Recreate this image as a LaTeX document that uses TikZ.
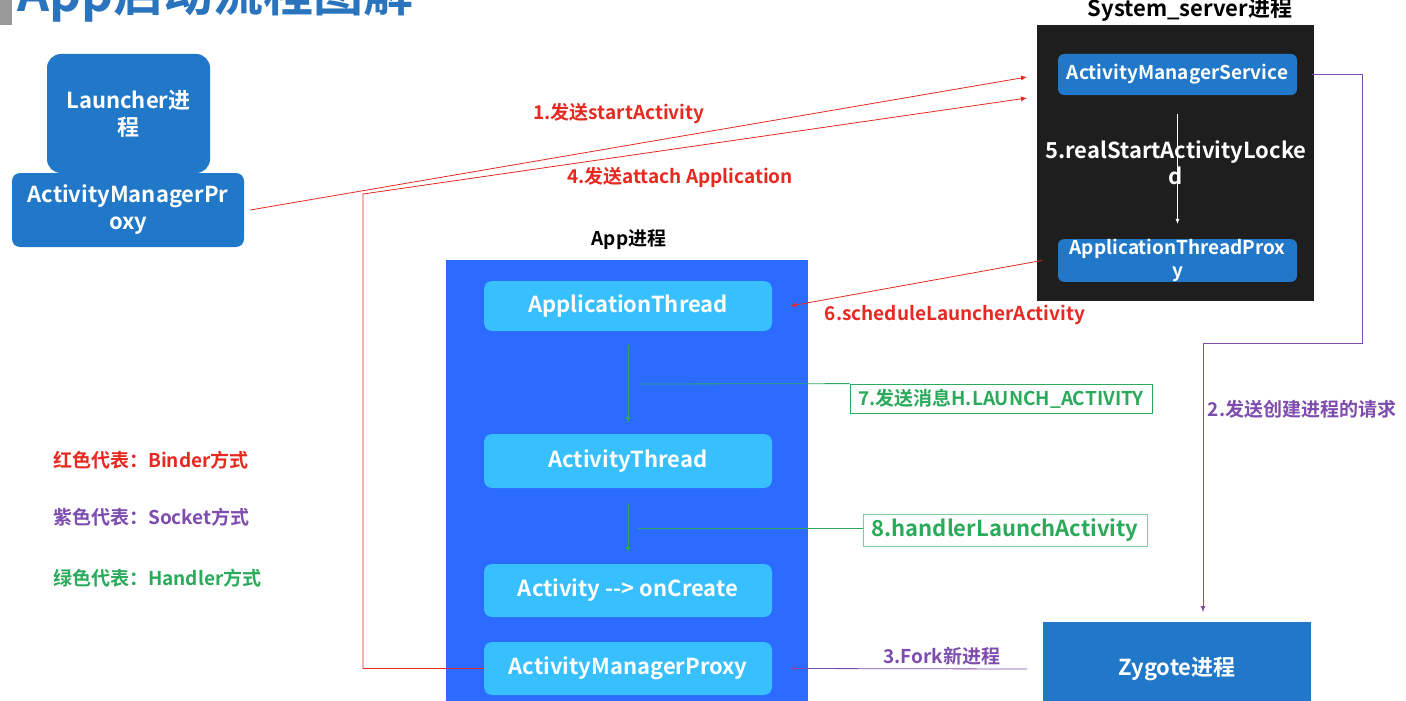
\documentclass[tikz,border=0pt]{standalone}
\usepackage{fontspec}
\setmainfont{Noto Sans CJK SC}[BoldFont={Noto Sans CJK SC Bold}]
\usepackage{xcolor}
\usetikzlibrary{arrows.meta,positioning}
\definecolor{midblue}{HTML}{2178C8}
\definecolor{appblue}{HTML}{2B6BFF}
\definecolor{lightblue}{HTML}{38BFFD}
\definecolor{darkbg}{HTML}{1E1E1E}
\definecolor{binder}{HTML}{E62A22}
\definecolor{socket}{HTML}{7D4CAE}
\definecolor{handler}{HTML}{2BAA5B}
\definecolor{titleblue}{HTML}{2A73BD}
\newcommand{\fs}[2]{\bfseries\fontsize{#1}{#2}\selectfont}

\begin{document}
\begin{tikzpicture}[
  x=1pt,y=-1pt,
  proc/.style={fill=midblue,text=white,inner sep=0pt,align=center},
  sysbox/.style={proc,rounded corners=6pt,minimum width=239pt,minimum height=41pt,font=\fs{19}{23}},
  inbox/.style={fill=lightblue,text=white,rounded corners=8pt,inner sep=0pt,minimum width=288pt,font=\fs{22}{26}},
  redarr/.style={draw=binder,line width=0.8pt,-{Latex[length=6pt,width=5pt]}},
  purarr/.style={draw=socket,line width=0.8pt,-{Latex[length=6pt,width=5pt]}},
  grnarr/.style={draw=handler,line width=0.8pt,-{Latex[length=6pt,width=5pt]}},
  lbl/.style={inner sep=1pt,align=center,font=\fs{19}{23}},
  tag/.style={draw=handler,line width=0.8pt,fill=white,text=handler,inner sep=0pt}
]
\clip (0,0) rectangle (1406,701);
\fill[white] (0,0) rectangle (1406,701);

% title, cut off at the top
\fill[gray!80] (0,0) rectangle (12,25);
\node[anchor=base west,inner sep=0pt,text=titleblue,font=\fs{50}{56}] (title) at (17,12) {App启动流程图解};

% Launcher
\node[proc,rounded corners=14pt,minimum width=163pt,minimum height=119pt,font=\fs{22}{27}] (launcher) at (128.5,113.5) {Launcher进\\程};
\node[proc,rounded corners=8pt,minimum width=232pt,minimum height=74pt,font=\fs{22}{27}] (amp) at (128,210) {ActivityManagerPr\\oxy};

% System_server
\node[fill=darkbg,minimum width=277pt,minimum height=276pt,inner sep=0pt] (sys) at (1175.5,163) {};
\node[font=\fs{22}{24},inner sep=0pt] (systitle) at (1190,10) {System\_server进程};
\node[sysbox] (ams) at (1177.5,74.5) {ActivityManagerService};
\node[sysbox] (atp) at (1177.5,260.5) {ApplicationThreadProx\\y};
\draw[white,line width=0.7pt,-{Latex[length=5pt,width=4pt]}] ([yshift=-19]ams.south) -- ([yshift=15]atp.north);
\node[lbl,text=white,font=\fs{22}{26}] (real) at (1176,163) {5.realStartActivityLocke\\d};

% App
\node[fill=appblue,minimum width=362pt,minimum height=460pt,inner sep=0pt] (app) at (627,490) {};
\node[font=\fs{19}{22},inner sep=0pt] (apptitle) at (629,240) {App进程};
\node[inbox,minimum height=50pt] (athread) at (628,306) {ApplicationThread};
\node[inbox,minimum height=54pt] (actthread) at (628,461) {ActivityThread};
\node[inbox,minimum height=53pt] (oncreate) at (628,590.5) {Activity -{}-> onCreate};
\node[inbox,minimum height=53pt] (aamp) at (628,668.5) {ActivityManagerProxy};

% Zygote
\node[proc,minimum width=268pt,minimum height=93pt,font=\fs{22}{26}] (zygote) at (1177,668.5) {Zygote进程};

% Binder
\coordinate (in1) at (1027,77);
\coordinate (in4) at (1027,98);
\coordinate (bend4) at (363,194);
\draw[redarr] ([xshift=6]amp.east) -- (in1);
\node[lbl,text=binder] (l1) at (619,113) {1.发送startActivity};
\draw[redarr] (aamp.west) -- (aamp.west -| bend4) -- (bend4) -- (in4);
\node[lbl,text=binder] (l4) at (680,177) {4.发送attach Application};
\draw[redarr] ([xshift=-16]atp.west) -- ([xshift=18]athread.east);
\node[lbl,text=binder] (l6) at (955,315) {6.scheduleLauncherActivity};

% Socket
\coordinate (c2a) at (1362,343);
\coordinate (c2b) at (1203,612);
\coordinate (in3) at (1027,669);
\draw[purarr] ([xshift=15]ams.east) -| (c2a) -| (c2b);
\node[lbl,text=socket] (l2) at (1302,409) {2.发送创建进程的请求};
\draw[purarr] (in3) -- ([xshift=18]aamp.east);
\node[lbl,text=socket] (l3) at (942,656) {3.Fork新进程};

% Handler
\draw[grnarr] ([yshift=-14]athread.south) -- ([yshift=11]actthread.north);
\draw[grnarr] ([yshift=-15]actthread.south) -- ([yshift=11]oncreate.north);
\node[tag,minimum width=302pt,minimum height=29pt,font=\fs{19}{22}] (l7) at (1001,398.5) {7.发送消息H.LAUNCH\_ACTIVITY};
\node[tag,draw=handler!60,minimum width=284pt,minimum height=32pt,font=\fs{22}{24}] (l8) at (1005,530) {8.handlerLaunchActivity};
\draw[draw=handler,line width=0.8pt] (638,384) -- (l7.north west);
\draw[draw=handler,line width=0.8pt] (638,528) -- (l8.west |- 0,528);

% legend
\node[lbl,anchor=west,text=binder] (leg1) at (52,460) {红色代表：Binder方式};
\node[lbl,anchor=west,text=socket] (leg2) at (52,517) {紫色代表：Socket方式};
\node[lbl,anchor=west,text=handler] (leg3) at (52,578) {绿色代表：Handler方式};
\end{tikzpicture}
\end{document}
